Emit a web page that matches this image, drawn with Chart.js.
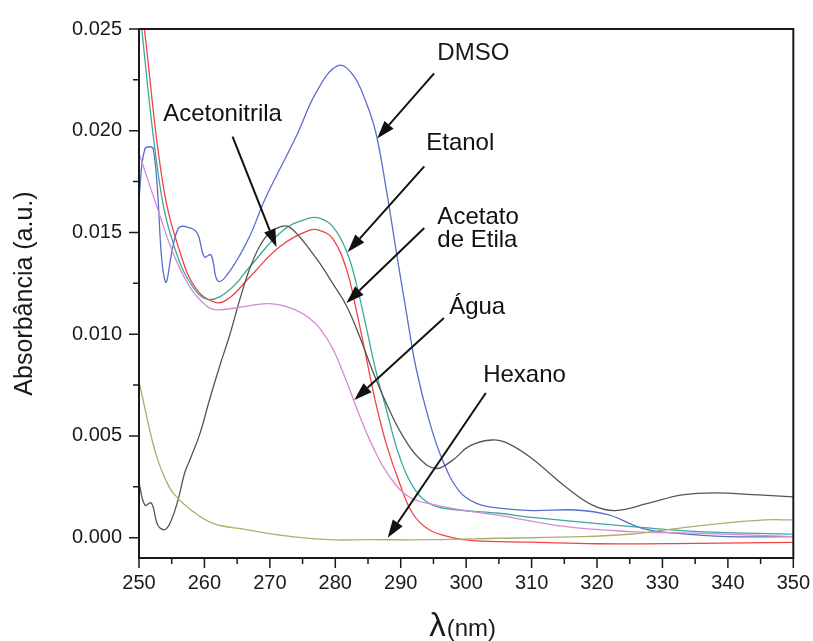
<!DOCTYPE html>
<html>
<head>
<meta charset="utf-8">
<script src="https://cdn.jsdelivr.net/npm/chart.js@4.4.0/dist/chart.umd.min.js"></script>
<style>
  body { margin: 0; background: #fff; }
  #wrap { width: 813px; height: 641px; }
</style>
</head>
<body>
<div id="wrap"><canvas id="spectra"></canvas></div>
<script>
// wavelength (nm) and absorbance
const dmsoNm = [250, 250.9, 252.2, 254, 256, 258, 259, 260, 261, 262.1, 264.1, 266.9, 269.2, 274, 277.1, 280.4, 282.7, 284.7, 286.2, 287.8, 289.3, 290.8, 292.3, 294.3, 296.4, 298.9, 301.5, 305, 310, 316.7, 321.8, 326.9, 332, 340, 350];
const dmsoAbs = [0.0167, 0.0191, 0.0191, 0.0126, 0.0152, 0.0152, 0.0149, 0.0138, 0.0139, 0.0126, 0.0132, 0.0148, 0.0166, 0.0197, 0.0219, 0.0232, 0.02275, 0.0214, 0.0199, 0.0171, 0.0141, 0.0112, 0.0084, 0.0058, 0.0038, 0.0023, 0.0017, 0.00145, 0.00133, 0.00136, 0.00112, 0.00046, 0.00022, 0.00005, 0.00005];

const etanolNm = [250, 251, 253.7, 256.3, 258.8, 261.8, 263.9, 266.9, 271.5, 276, 277.6, 279.6, 281.7, 283.2, 284.7, 286.2, 287.8, 289.8, 291.8, 294.3, 297.9, 301, 310, 320, 335, 350];
const etanolAbs = [0.0275, 0.0245, 0.0173, 0.0140, 0.0122, 0.01155, 0.0118, 0.0128, 0.0143, 0.0151, 0.0151, 0.0147, 0.0132, 0.0112, 0.0089, 0.0066, 0.0046, 0.0027, 0.0012, 0.0004, 0.0, -0.00015, -0.00022, -0.0003, -0.00028, -0.00023];

const acetatoNm = [250, 253.2, 255.7, 258.5, 260.8, 263.9, 266.9, 272, 276, 277.6, 279.6, 281.7, 283.2, 284.7, 286.2, 287.8, 289.8, 292.3, 294.9, 298.9, 305, 310, 322.8, 335.5, 350];
const acetatoAbs = [0.0262, 0.0173, 0.0140, 0.0122, 0.0117, 0.0122, 0.0133, 0.0151, 0.0157, 0.0157, 0.0153, 0.0141, 0.0125, 0.0104, 0.0082, 0.0063, 0.0040, 0.0023, 0.0016, 0.00136, 0.0012, 0.0010, 0.00062, 0.0003, 0.00017];

const acetonitrilaNm = [250, 250.9, 251.9, 252.9, 254, 255, 256, 257, 258, 259.3, 260.8, 262.3, 263.9, 265.4, 266.9, 268.4, 270, 271.8, 273, 274.5, 276, 277.6, 279.6, 281.7, 283.7, 285.7, 287.8, 290.3, 292.8, 295.4, 297.9, 300.5, 304, 306.6, 310, 315.2, 319.3, 322.8, 327.9, 333, 338.1, 344.7, 350];
const acetonitrilaAbs = [0.0027, 0.0016, 0.0017, 0.0006, 0.0004, 0.0009, 0.0019, 0.0032, 0.0040, 0.0051, 0.0068, 0.0084, 0.0100, 0.0117, 0.0132, 0.0143, 0.0150, 0.0153, 0.01526, 0.0148, 0.0142, 0.0135, 0.0125, 0.0114, 0.0099, 0.0082, 0.0066, 0.0050, 0.0039, 0.0034, 0.0038, 0.0045, 0.0048, 0.0046, 0.0039, 0.0025, 0.0016, 0.00133, 0.0017, 0.0021, 0.0022, 0.0021, 0.0020];

const aguaNm = [250, 252.7, 255.2, 257.8, 260.3, 261.8, 264.9, 269.5, 272, 274.5, 276, 277.6, 279.6, 281.7, 283.7, 285.7, 288.3, 291.3, 295.4, 300.5, 305, 315, 325, 335, 350];
const aguaAbs = [0.0189, 0.0163, 0.0140, 0.0123, 0.0114, 0.0112, 0.0113, 0.0115, 0.0114, 0.0111, 0.0108, 0.0103, 0.0093, 0.0077, 0.0060, 0.0045, 0.0030, 0.0020, 0.0016, 0.0013, 0.0011, 0.00055, 0.0003, 0.00022, 0.00005];

const hexanoNm = [250, 251, 252, 253, 254, 255.2, 257.8, 261.3, 266.4, 271.5, 279, 285, 295, 305, 317.7, 325.4, 330.5, 338, 345.7, 350];
const hexanoAbs = [0.0077, 0.0062, 0.0048, 0.0037, 0.0029, 0.0022, 0.0014, 0.0007, 0.0004, 0.00013, -0.0001, -0.0001, -0.0001, -0.00003, 0.00005, 0.00018, 0.00038, 0.00067, 0.00087, 0.00087];

const xTicks = [250, 260, 270, 280, 290, 300, 310, 320, 330, 340, 350];
const xMinorTicks = [255, 265, 275, 285, 295, 305, 315, 325, 335, 345];
const yTicks = [0, 0.005, 0.010, 0.015, 0.020, 0.025];
const yMinorTicks = [0.0025, 0.0075, 0.0125, 0.0175, 0.0225];

const FONT = "'Liberation Sans', Arial, sans-serif";

function pairs(nm, abs) {
  return nm.map((x, i) => ({ x: x, y: abs[i] }));
}

function series(label, nm, abs, color) {
  return {
    label: label,
    data: pairs(nm, abs),
    borderColor: color,
    borderWidth: 1.3,
    pointRadius: 0,
    tension: 0.4,
    fill: false,
  };
}

// labels and arrows, given in data units (nm, absorbance)
const notes = [
  { text: ["DMSO"], at: [295.6, 0.02382], from: [295.1, 0.02282], to: [286.4, 0.01962] },
  { text: ["Etanol"], at: [293.9, 0.0194], from: [293.6, 0.01825], to: [281.9, 0.01404] },
  { text: ["Acetato", "de Etila"], at: [295.6, 0.01576], from: [293.6, 0.01522], to: [281.7, 0.01153] },
  { text: ["Acetonitrila"], at: [253.7, 0.02078], from: [264.3, 0.01971], to: [271.0, 0.01428] },
  { text: ["Água"], at: [297.4, 0.01134], from: [296.6, 0.0108], to: [282.9, 0.00677] },
  { text: ["Hexano"], at: [302.6, 0.008], from: [303.0, 0.00711], to: [288.0, 0.0] },
];

const decorations = {
  id: "decorations",
  afterDraw(chart) {
    const ctx = chart.ctx;
    const xs = chart.scales.x;
    const ys = chart.scales.y;
    const area = chart.chartArea;

    ctx.save();
    ctx.strokeStyle = "#1a1a1a";
    ctx.lineWidth = 2;
    ctx.strokeRect(area.left, area.top, area.right - area.left, area.bottom - area.top);

    // tick marks, pointing outward
    ctx.lineWidth = 1.5;
    ctx.beginPath();
    xTicks.forEach((v) => {
      const px = xs.getPixelForValue(v);
      ctx.moveTo(px, area.bottom);
      ctx.lineTo(px, area.bottom + 10);
    });
    xMinorTicks.forEach((v) => {
      const px = xs.getPixelForValue(v);
      ctx.moveTo(px, area.bottom);
      ctx.lineTo(px, area.bottom + 6);
    });
    yTicks.forEach((v) => {
      const py = ys.getPixelForValue(v);
      ctx.moveTo(area.left, py);
      ctx.lineTo(area.left - 10, py);
    });
    yMinorTicks.forEach((v) => {
      const py = ys.getPixelForValue(v);
      ctx.moveTo(area.left, py);
      ctx.lineTo(area.left - 6, py);
    });
    ctx.stroke();

    // x axis title: lambda larger than the unit
    const cx = (area.left + area.right) / 2 - 4;
    ctx.fillStyle = "#1a1a1a";
    ctx.textBaseline = "alphabetic";
    ctx.font = "33px " + FONT;
    const lw = ctx.measureText("λ").width;
    ctx.font = "24px " + FONT;
    const nw = ctx.measureText("(nm)").width;
    const startX = cx - (lw + nw) / 2;
    ctx.font = "33px " + FONT;
    ctx.fillText("λ", startX, 636);
    ctx.font = "24px " + FONT;
    ctx.fillText("(nm)", startX + lw + 1, 636);

    // annotations
    ctx.font = "24px " + FONT;
    ctx.textBaseline = "middle";
    ctx.textAlign = "left";
    notes.forEach((n) => {
      const tx = xs.getPixelForValue(n.at[0]);
      const ty = ys.getPixelForValue(n.at[1]);
      n.text.forEach((line, i) => ctx.fillText(line, tx, ty + i * 23));

      const x1 = xs.getPixelForValue(n.from[0]);
      const y1 = ys.getPixelForValue(n.from[1]);
      const x2 = xs.getPixelForValue(n.to[0]);
      const y2 = ys.getPixelForValue(n.to[1]);
      const ang = Math.atan2(y2 - y1, x2 - x1);
      const headLen = 18;
      const headW = 6;
      const bx = x2 - headLen * Math.cos(ang);
      const by = y2 - headLen * Math.sin(ang);

      ctx.strokeStyle = "#111";
      ctx.lineWidth = 2;
      ctx.beginPath();
      ctx.moveTo(x1, y1);
      ctx.lineTo(bx, by);
      ctx.stroke();

      ctx.beginPath();
      ctx.moveTo(x2, y2);
      ctx.lineTo(bx + headW * Math.sin(ang), by - headW * Math.cos(ang));
      ctx.lineTo(bx - headW * Math.sin(ang), by + headW * Math.cos(ang));
      ctx.closePath();
      ctx.fillStyle = "#111";
      ctx.fill();
    });
    ctx.restore();
  },
};

const ctx = document.getElementById("spectra").getContext("2d");

new Chart(ctx, {
  type: "line",
  data: {
    datasets: [
      series("Hexano", hexanoNm, hexanoAbs, "#aeae6c"),
      series("Água", aguaNm, aguaAbs, "#d689d6"),
      series("Acetonitrila", acetonitrilaNm, acetonitrilaAbs, "#555555"),
      series("Acetato de Etila", acetatoNm, acetatoAbs, "#3ea69e"),
      series("Etanol", etanolNm, etanolAbs, "#f04444"),
      series("DMSO", dmsoNm, dmsoAbs, "#5a6ecc"),
    ],
  },
  options: {
    responsive: true,
    maintainAspectRatio: false,
    animation: false,
    layout: {
      padding: { left: 0, top: 29, right: 18, bottom: 0 },
    },
    plugins: {
      legend: { display: false },
      tooltip: { enabled: false },
    },
    scales: {
      x: {
        type: "linear",
        min: 250,
        max: 350,
        grid: { display: false, drawTicks: true, tickLength: 10 },
        border: { display: false },
        afterBuildTicks: (axis) => {
          axis.ticks = xTicks.map((v) => ({ value: v }));
        },
        afterFit: (axis) => {
          axis.height = 83;
        },
        ticks: {
          padding: 3,
          maxRotation: 0,
          color: "#1a1a1a",
          font: { family: FONT, size: 20 },
        },
      },
      y: {
        min: -0.001,
        max: 0.025,
        grid: { display: false, drawTicks: true, tickLength: 10 },
        border: { display: false },
        afterBuildTicks: (axis) => {
          axis.ticks = yTicks.map((v) => ({ value: v }));
        },
        afterFit: (axis) => {
          axis.width = 139;
        },
        ticks: {
          padding: 7,
          color: "#1a1a1a",
          font: { family: FONT, size: 20 },
          callback: (v) => v.toFixed(3),
        },
        title: {
          display: true,
          text: "Absorbância (a.u.)",
          color: "#1a1a1a",
          font: { family: FONT, size: 25 },
          padding: { top: 10, bottom: 0 },
        },
      },
    },
  },
  plugins: [decorations],
});
</script>
</body>
</html>
